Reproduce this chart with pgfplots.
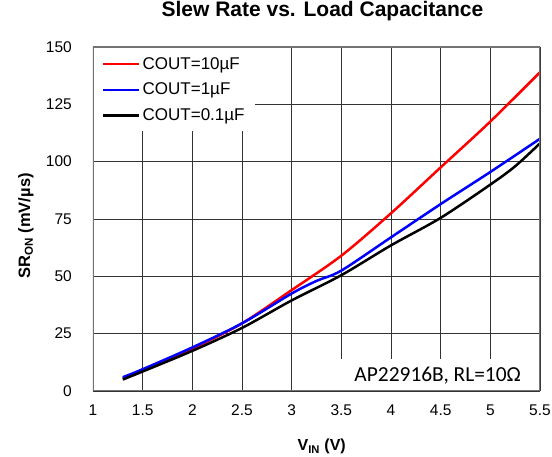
\documentclass[border=0pt]{standalone}
\usepackage{fontspec}
\setmainfont{Liberation Sans}
\newfontfamily\carlito{Carlito}
\usepackage{pgfplots}
\pgfplotsset{compat=1.18}
\begin{document}
\begin{tikzpicture}
\begin{axis}[
  at={(0,0)}, anchor=south west,
  scale only axis, width=447pt, height=344pt,
  xmin=1, xmax=5.5, ymin=0, ymax=150,
  xtick={1,1.5,2,2.5,3,3.5,4,4.5,5,5.5},
  ytick={0,25,50,75,100,125,150},
  grid=major, grid style={black!80, line width=0.7pt},
  axis line style={draw=none},
  tick style={draw=none},
  /pgf/number format/assume math mode=true,
  tick label style={font=\fontsize{15.5}{18}\selectfont, inner sep=0pt},
  xticklabel style={anchor=center, yshift=-19pt},
  yticklabel style={anchor=east, xshift=-21pt},
  title={Slew Rate vs. Load Capacitance},
  title style={font=\bfseries\fontsize{21}{24}\selectfont, at={(axis description cs:0.5134,1.087)}, anchor=center},
  xlabel={V\textsubscript{IN} (V)},
  xlabel style={font=\bfseries\fontsize{16}{19}\selectfont, at={(axis description cs:0.5116,-0.162)}, anchor=center},
  ylabel={SR\textsubscript{ON} (mV/µs)},
  ylabel style={font=\bfseries\fontsize{16.5}{19}\selectfont, at={(axis description cs:-0.150,0.480)}, anchor=center},
  legend style={at={(0,1)}, anchor=north west, xshift=1pt, yshift=-1pt, draw=none, fill=white,
    font=\fontsize{17}{20}\selectfont, inner xsep=8pt, inner ysep=7pt, row sep=8.5pt},
  legend cell align=left,
  legend image code/.code={\draw[#1, line width=2.5pt] (0pt,0pt) -- (36pt,0pt);},
]
\addplot[red, line width=2.5pt, smooth] coordinates {
(1.3,5.5) (1.5,9) (2,18.5) (2.5,29.5) (3,44) (3.5,59) (4,77.5) (4.5,97.5) (5,117.5) (5.5,139)};
\addlegendentry{COUT=10µF}
\addplot[blue, line width=2.5pt, smooth] coordinates {
(1.3,6) (1.5,9.5) (2,19) (2.5,29.5) (3,42.5) (3.25,48) (3.5,52.5) (4,67) (4.5,81.5) (5,95.5) (5.5,110)};
\addlegendentry{COUT=1µF}
\addplot[black, line width=2.5pt, smooth] coordinates {
(1.3,5) (1.5,8.5) (2,17.5) (2.5,27.5) (3,39.5) (3.5,50.5) (4,63.5) (4.5,75.5) (5,90) (5.25,98) (5.5,108)};
\addlegendentry{COUT=0.1µF}
\fill[white] (axis cs:3.25,0) rectangle (axis cs:5.5,14);
\node[font=\carlito\fontsize{21.4}{25}\selectfont] at (axis cs:4.47,6.5) {AP22916B, RL=10Ω};
\draw[black!55, line width=1.5pt] (rel axis cs:0,0) rectangle (rel axis cs:1,1);
\end{axis}
\pgfresetboundingbox
\useasboundingbox (-93pt,-66pt) rectangle (459pt,391pt);
\end{tikzpicture}
\end{document}
